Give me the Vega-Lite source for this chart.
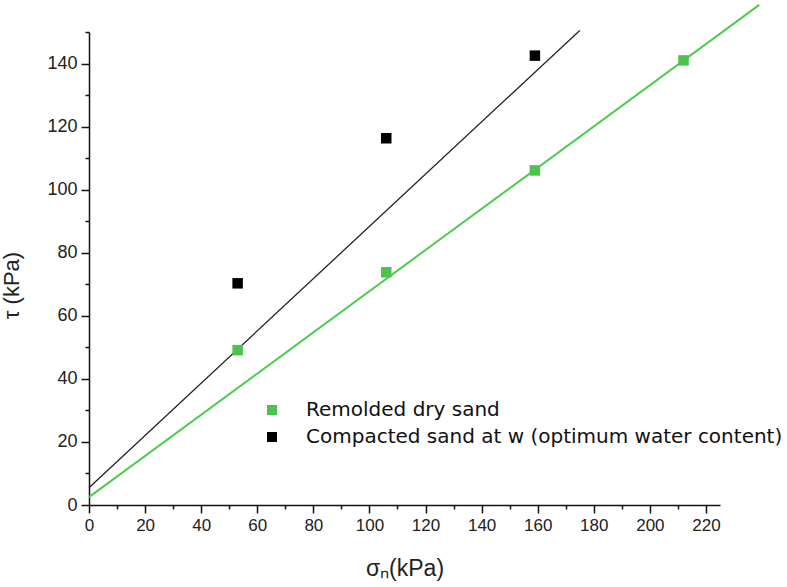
{
  "$schema": "https://vega.github.io/schema/vega-lite/v6.json",
  "width": 631,
  "height": 473,
  "autosize": "none",
  "padding": {"left": 89, "top": 32, "right": 67, "bottom": 82},
  "background": "white",
  "config": {
    "view": {"stroke": null},
    "font": "Liberation Sans",
    "axis": {
      "grid": false,
      "domainColor": "#111",
      "domainWidth": 1.5,
      "tickColor": "#111",
      "tickWidth": 1.5,
      "labelFont": "Liberation Sans",
      "labelColor": "#222",
      "titleFont": "Liberation Sans",
      "titleFontWeight": "normal",
      "titleColor": "#222"
    }
  },
  "datasets": {
    "pts": [
      {"sigma": 53, "tau": 49.1, "series": "Remolded dry sand"},
      {"sigma": 106, "tau": 73.8, "series": "Remolded dry sand"},
      {"sigma": 159, "tau": 106.1, "series": "Remolded dry sand"},
      {"sigma": 212, "tau": 141, "series": "Remolded dry sand"},
      {"sigma": 53, "tau": 70.3, "series": "Compacted sand at w (optimum water content)"},
      {"sigma": 106, "tau": 116.3, "series": "Compacted sand at w (optimum water content)"},
      {"sigma": 159, "tau": 142.5, "series": "Compacted sand at w (optimum water content)"}
    ],
    "fits": [
      {"sigma": 0, "tau": 2.5, "fit": "dry"},
      {"sigma": 239, "tau": 158.6, "fit": "dry"},
      {"sigma": 0, "tau": 5.5, "fit": "compacted"},
      {"sigma": 175, "tau": 150.5, "fit": "compacted"}
    ]
  },
  "resolve": {"axis": {"x": "independent", "y": "independent"}},
  "layer": [
    {
      "data": {"name": "fits"},
      "mark": {"type": "line", "clip": false},
      "encoding": {
        "x": {
          "field": "sigma", "type": "quantitative",
          "scale": {"domain": [0, 225], "nice": false, "zero": true},
          "axis": {
            "orient": "bottom",
            "values": [0,20,40,60,80,100,120,140,160,180,200,220],
            "tickSize": 8,
            "labelFontSize": 17,
            "labelPadding": 4,
            "labelFlush": false,
            "labelOverlap": false,
            "title": "σₙ(kPa)",
            "titleFontSize": 23,
            "titlePadding": 24
          }
        },
        "y": {
          "field": "tau", "type": "quantitative",
          "scale": {"domain": [0, 150], "nice": false},
          "axis": {
            "orient": "left",
            "values": [0,20,40,60,80,100,120,140],
            "tickSize": 8,
            "labelFontSize": 18,
            "labelPadding": 4,
            "labelFlush": false,
            "labelOverlap": false,
            "title": "τ (kPa)",
            "titleFontSize": 22,
            "titlePadding": 23,
            "titleY": 253
          }
        },
        "detail": {"field": "fit"},
        "stroke": {
          "field": "fit", "type": "nominal",
          "scale": {"domain": ["dry", "compacted"], "range": ["#4fcc4f", "#222222"]},
          "legend": null
        },
        "strokeWidth": {
          "field": "fit", "type": "nominal",
          "scale": {"domain": ["dry", "compacted"], "range": [2, 1.3]},
          "legend": null
        }
      }
    },
    {
      "data": {"name": "pts"},
      "mark": {"type": "point", "shape": "square", "filled": true, "opacity": 1, "size": 110, "clip": false},
      "encoding": {
        "x": {
          "field": "sigma", "type": "quantitative",
          "axis": {
            "orient": "bottom",
            "values": [10,30,50,70,90,110,130,150,170,190,210],
            "tickSize": 4,
            "labels": false,
            "domain": false,
            "title": null
          }
        },
        "y": {
          "field": "tau", "type": "quantitative",
          "axis": {
            "orient": "left",
            "values": [10,30,50,70,90,110,130,150],
            "tickSize": 4,
            "labels": false,
            "domain": false,
            "title": null
          }
        },
        "fill": {
          "field": "series", "type": "nominal",
          "scale": {"domain": ["Remolded dry sand", "Compacted sand at w (optimum water content)"], "range": ["#4cc34c", "#000000"]},
          "legend": {
            "title": null,
            "orient": "none",
            "legendX": 173,
            "legendY": 368,
            "symbolType": "square",
            "symbolSize": 100,
            "symbolStrokeWidth": 0,
            "symbolOpacity": 1,
            "labelFont": "DejaVu Sans",
            "labelFontSize": 20,
            "labelColor": "#111",
            "labelOffset": 24,
            "labelLimit": 600,
            "rowPadding": 7,
            "padding": 0
          }
        }
      }
    }
  ]
}
